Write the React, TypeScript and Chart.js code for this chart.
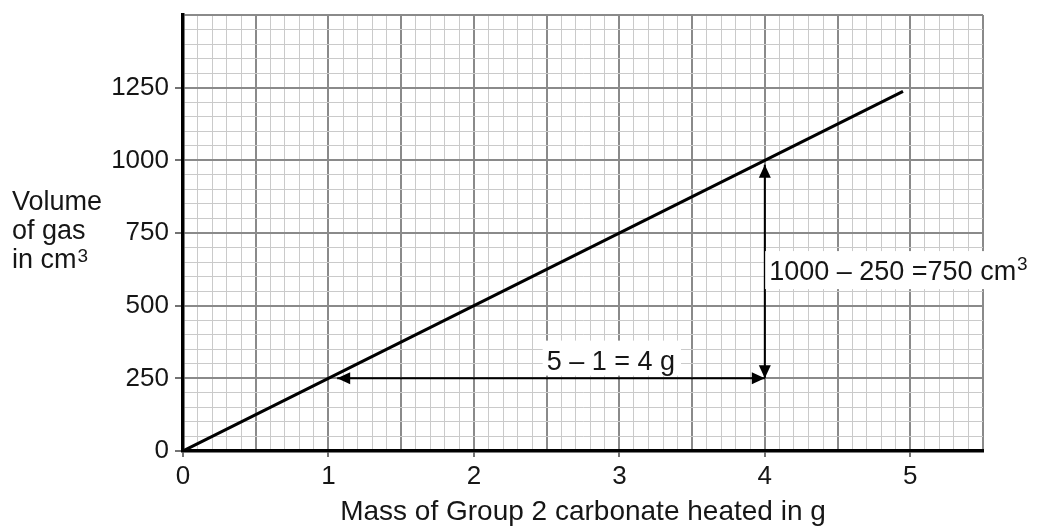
import React, { useEffect, useRef } from 'react';
import { Chart, registerables } from 'chart.js';

Chart.register(...registerables);

// ---- data ----
const massValues = [0, 4.95];
const volumeValues = [0, 1237.5];

const xLabelValues = [0, 1, 2, 3, 4, 5];
const yLabelValues = [0, 250, 500, 750, 1000, 1250];

const xMin = 0;
const xMax = 5.5;
const yMin = 0;
const yMax = 1500;
const xMinorStep = 0.1;
const xMajorStep = 0.5;
const yMinorStep = 50;
const yMajorStep = 250;

const horizArrowX = [1.06, 4];
const horizArrowY = [250, 250];
const vertArrowX = [4, 4];
const vertArrowY = [250, 985];

const massDiffText = '5 – 1 = 4 g';
const massDiffAnchor = [2.5, 280];
const volumeDiffText = '1000 – 250 =750 cm';
const volumeDiffSup = '3';
const volumeDiffAnchor = [4.03, 588];

const yTitleLines = ['Volume', 'of gas', 'in cm'];
const yTitleSup = '3';
const xTitle = 'Mass of Group 2 carbonate heated in g';

const FONT = "'Liberation Sans', Arial, sans-serif";
const TEXT = '#161616';
const MAJOR = '#8a8a8a';
const MINOR = '#cacaca';

const isMult = (v: number, step: number) => Math.abs(v / step - Math.round(v / step)) < 1e-6;
const inList = (v: number, list: number[]) => list.some((l) => Math.abs(l - v) < 1e-6);

const annotPlugin = {
  id: 'annot',
  afterDatasetsDraw(chart: any) {
    const { ctx } = chart;
    const xs = chart.scales.x;
    const ys = chart.scales.y;
    ctx.save();

    // arrow heads
    const head = (tx: number, ty: number, dx: number, dy: number) => {
      const L = 13;
      const W = 6;
      const bx = tx - dx * L;
      const by = ty - dy * L;
      ctx.beginPath();
      ctx.moveTo(tx, ty);
      ctx.lineTo(bx - dy * W, by + dx * W);
      ctx.lineTo(bx + dy * W, by - dx * W);
      ctx.closePath();
      ctx.fillStyle = '#000';
      ctx.fill();
    };
    head(xs.getPixelForValue(horizArrowX[0]), ys.getPixelForValue(horizArrowY[0]), -1, 0);
    head(xs.getPixelForValue(horizArrowX[1]), ys.getPixelForValue(horizArrowY[1]), 1, 0);
    head(xs.getPixelForValue(vertArrowX[1]), ys.getPixelForValue(vertArrowY[1]), 0, -1);
    head(xs.getPixelForValue(vertArrowX[0]), ys.getPixelForValue(vertArrowY[0]), 0, 1);

    // mass difference label
    ctx.font = `27px ${FONT}`;
    ctx.textBaseline = 'alphabetic';
    ctx.textAlign = 'left';
    {
      const px = xs.getPixelForValue(massDiffAnchor[0]);
      const py = ys.getPixelForValue(massDiffAnchor[1]);
      const w = ctx.measureText(massDiffText).width;
      ctx.fillStyle = '#fff';
      ctx.fillRect(px - 4, py - 29, w + 10, 35);
      ctx.fillStyle = TEXT;
      ctx.fillText(massDiffText, px, py);
    }
    // volume difference label
    {
      const px = xs.getPixelForValue(volumeDiffAnchor[0]);
      const py = ys.getPixelForValue(volumeDiffAnchor[1]);
      const w = ctx.measureText(volumeDiffText).width;
      ctx.fillStyle = '#fff';
      ctx.fillRect(px - 4, py - 29, chart.width - px + 4, 38);
      ctx.fillStyle = TEXT;
      ctx.fillText(volumeDiffText, px, py);
      ctx.font = `19px ${FONT}`;
      ctx.fillText(volumeDiffSup, px + w + 1, py - 10);
    }
    ctx.restore();
  },
  afterDraw(chart: any) {
    const { ctx, chartArea } = chart;
    ctx.save();
    ctx.fillStyle = TEXT;
    ctx.textBaseline = 'alphabetic';
    ctx.textAlign = 'left';
    ctx.font = `27px ${FONT}`;
    const baselines = [210, 239, 268];
    yTitleLines.forEach((t, i) => ctx.fillText(t, 12, baselines[i]));
    const w = ctx.measureText(yTitleLines[2]).width;
    ctx.font = `19px ${FONT}`;
    ctx.fillText(yTitleSup, 12 + w + 1, 262);

    ctx.font = `28px ${FONT}`;
    ctx.textAlign = 'center';
    ctx.fillText(xTitle, (chartArea.left + chartArea.right) / 2, 520);
    ctx.restore();
  },
};

export default function App() {
  const ref = useRef<HTMLCanvasElement>(null);

  useEffect(() => {
    if (!ref.current) return;
    const chart = new Chart(ref.current, {
      type: 'scatter',
      data: {
        datasets: [
          {
            data: massValues.map((m, i) => ({ x: m, y: volumeValues[i] })),
            showLine: true,
            borderColor: '#000',
            borderWidth: 3,
            pointRadius: 0,
          },
          {
            data: horizArrowX.map((m, i) => ({ x: m, y: horizArrowY[i] })),
            showLine: true,
            borderColor: '#000',
            borderWidth: 2,
            pointRadius: 0,
          },
          {
            data: vertArrowX.map((m, i) => ({ x: m, y: vertArrowY[i] })),
            showLine: true,
            borderColor: '#000',
            borderWidth: 2,
            pointRadius: 0,
          },
        ],
      },
      options: {
        responsive: false,
        animation: false,
        layout: { padding: { left: 0, right: 61, top: 15, bottom: 0 } },
        plugins: { legend: { display: false }, tooltip: { enabled: false } },
        scales: {
          x: {
            type: 'linear',
            min: xMin,
            max: xMax,
            afterBuildTicks: (s: any) => {
              const n = Math.round((xMax - xMin) / xMinorStep);
              const t = [];
              for (let i = 0; i <= n; i++) t.push({ value: xMin + i * xMinorStep });
              s.ticks = t;
            },
            afterFit: (s: any) => {
              s.height = 75;
            },
            ticks: {
              autoSkip: false,
              maxRotation: 0,
              padding: 4,
              color: TEXT,
              font: (c: any) => ({
                family: FONT,
                size: c.tick && inList(c.tick.value, xLabelValues) ? 26 : 1,
              }),
              callback: (v: any) => (inList(Number(v), xLabelValues) ? String(Math.round(Number(v))) : ''),
            },
            grid: {
              color: (c: any) => (c.tick && isMult(c.tick.value, xMajorStep) ? MAJOR : MINOR),
              lineWidth: (c: any) => (c.tick && isMult(c.tick.value, xMajorStep) ? 2 : 1),
              tickColor: (c: any) => (c.tick && inList(c.tick.value, xLabelValues) ? '#444' : 'rgba(0,0,0,0)'),
              tickWidth: 1.5,
              tickLength: 6,
            },
            border: { display: true, color: '#000', width: 3.5 },
          },
          y: {
            type: 'linear',
            min: yMin,
            max: yMax,
            afterBuildTicks: (s: any) => {
              const n = Math.round((yMax - yMin) / yMinorStep);
              const t = [];
              for (let i = 0; i <= n; i++) t.push({ value: yMin + i * yMinorStep });
              s.ticks = t;
            },
            afterFit: (s: any) => {
              s.width = 183;
            },
            ticks: {
              autoSkip: false,
              padding: 6,
              color: TEXT,
              font: (c: any) => ({
                family: FONT,
                size: c.tick && inList(c.tick.value, yLabelValues) ? 26 : 1,
              }),
              callback: (v: any) => (inList(Number(v), yLabelValues) ? String(Number(v)) : ''),
            },
            grid: {
              color: (c: any) => (c.tick && isMult(c.tick.value, yMajorStep) ? MAJOR : MINOR),
              lineWidth: (c: any) => (c.tick && isMult(c.tick.value, yMajorStep) ? 2 : 1),
              tickColor: (c: any) => (c.tick && inList(c.tick.value, yLabelValues) ? '#444' : 'rgba(0,0,0,0)'),
              tickWidth: 1.5,
              tickLength: 8,
            },
            border: { display: true, color: '#000', width: 3.5 },
          },
        },
      },
      plugins: [annotPlugin],
    } as any);
    return () => chart.destroy();
  }, []);

  return (
    <div style={{ position: 'fixed', left: 0, top: 0, width: 1044, height: 526, background: '#fff' }}>
      <canvas ref={ref} width={1044} height={526} style={{ display: 'block' }} />
    </div>
  );
}
